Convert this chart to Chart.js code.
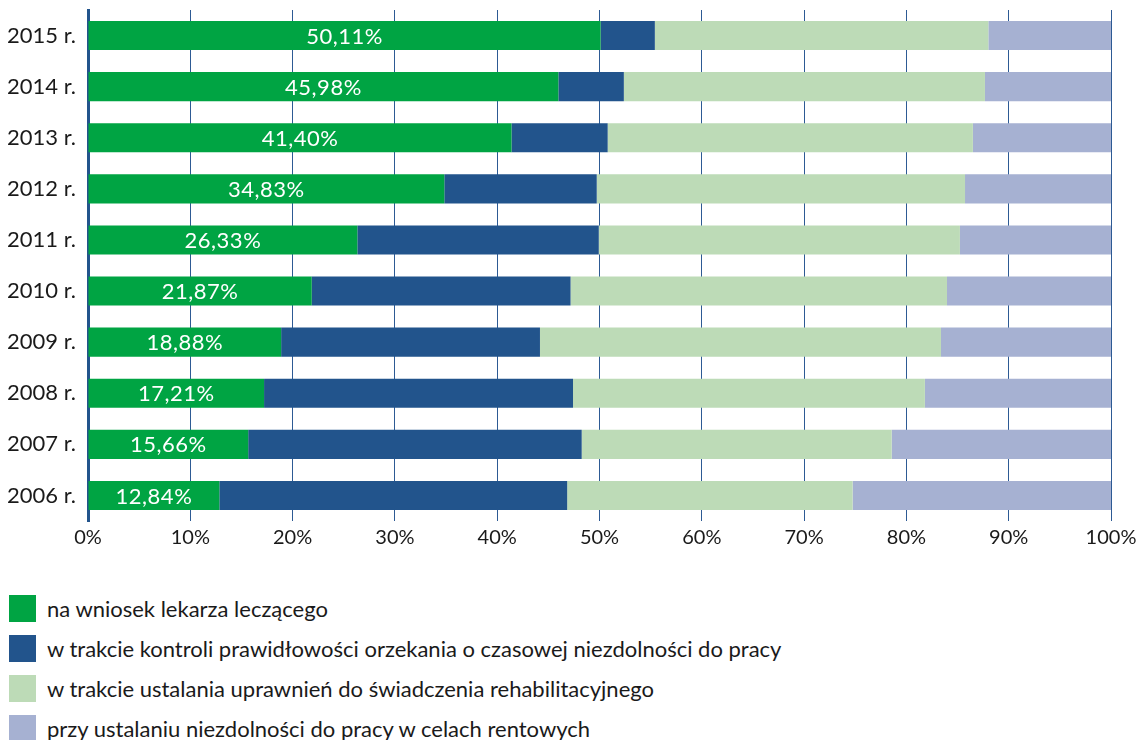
<!DOCTYPE html>
<html>
<head>
<meta charset="utf-8">
<script src="https://cdn.jsdelivr.net/npm/chart.js@4/dist/chart.umd.min.js"></script>
<style>
  html, body { margin: 0; background: #fff; font-family: Lato, sans-serif; overflow: hidden; }
  #wrap { position: relative; width: 1136px; height: 555px; }
  #legend { margin: 33px 0 0 9px; }
  .item { display: flex; align-items: center; height: 40px; font-size: 22px; color: #1a1a1a; }
  .box { width: 27px; height: 27px; margin-right: 11px; flex: none; }
</style>
</head>
<body>
<div id="wrap"><canvas id="chart"></canvas></div>
<div id="legend"></div>
<script>
const years = ['2015 r.', '2014 r.', '2013 r.', '2012 r.', '2011 r.', '2010 r.', '2009 r.', '2008 r.', '2007 r.', '2006 r.'];

const seriesNames = [
    'na wniosek lekarza leczącego',
    'w trakcie kontroli prawidłowości orzekania o czasowej niezdolności do pracy',
    'w trakcie ustalania uprawnień do świadczenia rehabilitacyjnego',
    'przy ustalaniu niezdolności do pracy w celach rentowych',
];

// shares in % (only the first series is labelled)
const lekarz = [50.11, 45.98, 41.40, 34.83, 26.33, 21.87, 18.88, 17.21, 15.66, 12.84];
const kontrola = [5.3, 6.4, 9.4, 14.9, 23.6, 25.3, 25.3, 30.2, 32.6, 34.0];
const rehabilitacja = [32.6, 35.3, 35.7, 36.0, 35.3, 36.8, 39.2, 34.4, 30.3, 27.9];
const renta = [11.99, 12.32, 13.5, 14.27, 14.77, 16.03, 16.62, 18.19, 21.44, 25.26];

const colors = ['#00a443', '#22548c', '#bddbb7', '#a6b1d2'];
const tickLabels = ['0%', '10%', '20%', '30%', '40%', '50%', '60%', '70%', '80%', '90%', '100%'];

// white value labels inside the green bars
const greenLabels = {
    id: 'greenLabels',
    afterDatasetsDraw(chart) {
        const ctx = chart.ctx;
        const meta = chart.getDatasetMeta(0);
        ctx.save();
        ctx.fillStyle = '#fff';
        ctx.font = '22px Lato';
        ctx.letterSpacing = '0.5px';
        ctx.textAlign = 'center';
        ctx.textBaseline = 'middle';
        meta.data.forEach((bar, i) => {
            const txt = lekarz[i].toFixed(2).replace('.', ',') + '%';
            ctx.fillText(txt, (bar.base + bar.x) / 2, bar.y + 1);
        });
        ctx.restore();
    }
};

const allSeries = [lekarz, kontrola, rehabilitacja, renta];

new Chart(document.getElementById('chart'), {
    type: 'bar',
    data: {
        labels: years,
        datasets: allSeries.map((d, i) => ({
            label: seriesNames[i],
            data: d,
            backgroundColor: colors[i],
            borderWidth: 0,
            barPercentage: 0.57,
            categoryPercentage: 1,
        })),
    },
    options: {
        indexAxis: 'y',
        responsive: true,
        maintainAspectRatio: false,
        animation: false,
        layout: { padding: { top: 10, right: 25, left: 0, bottom: 0 } },
        plugins: {
            legend: { display: false },
            tooltip: { enabled: false },
        },
        scales: {
            x: {
                stacked: true,
                min: 0,
                max: 100,
                z: 1,
                border: { display: false },
                grid: {
                    color: '#2d5a94',
                    drawTicks: false,
                },
                ticks: {
                    stepSize: 10,
                    padding: 5,
                    color: '#1a1a1a',
                    font: { family: 'Lato', size: 20 },
                    callback: (v) => tickLabels[v / 10],
                },
                afterFit: (scale) => { scale.paddingLeft = 0; scale.paddingRight = 0; },
            },
            y: {
                stacked: true,
                z: 2,
                border: { display: true, width: 3, color: '#22548c' },
                grid: { display: false, drawTicks: false },
                ticks: {
                    padding: 12,
                    color: '#1a1a1a',
                    font: { family: 'Lato', size: 22 },
                },
                afterFit: (scale) => {
                    scale.width = 88;
                    scale.paddingTop = 0;
                    scale.paddingBottom = 0;
                },
            },
        },
    },
    plugins: [greenLabels],
});

const legend = document.getElementById('legend');
seriesNames.forEach((name, i) => {
    const row = document.createElement('div');
    row.className = 'item';
    row.innerHTML = '<span class="box" style="background:' + colors[i] + '"></span>' + name;
    legend.appendChild(row);
});
</script>
</body>
</html>
